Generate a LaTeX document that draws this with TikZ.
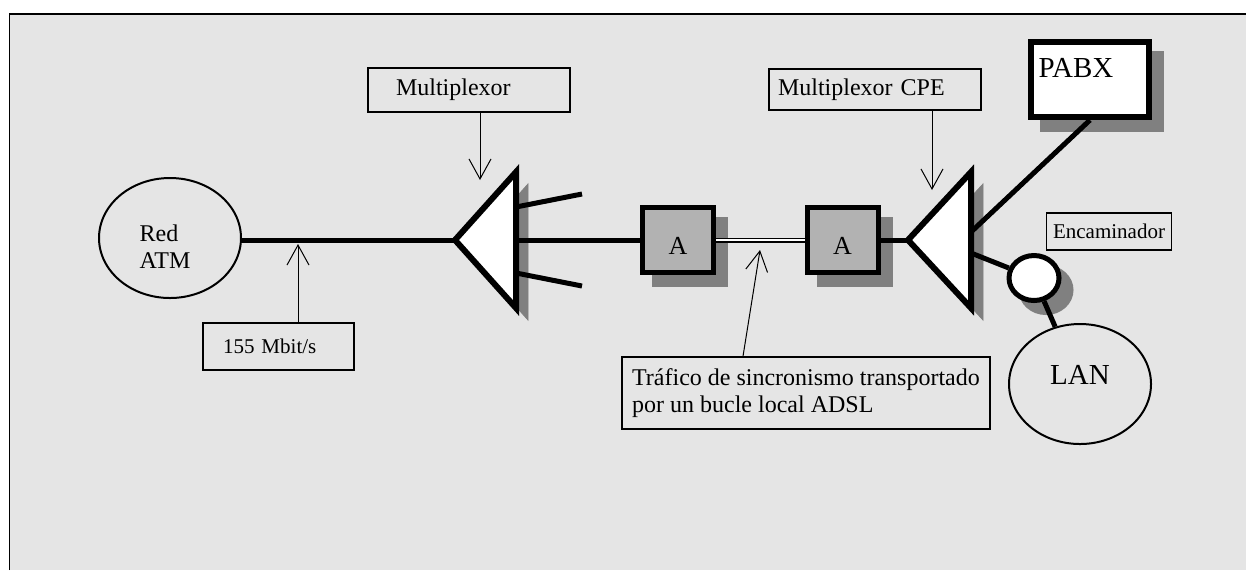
\documentclass[tikz,border=0pt]{standalone}
\usepackage{fontspec}
\setmainfont{Liberation Serif}
\usetikzlibrary{arrows.meta,positioning,shapes.geometric,shadows}

\definecolor{panel}{gray}{0.9}
\definecolor{modem}{gray}{0.7}
\definecolor{shade}{gray}{0.5}

\begin{document}
\begin{tikzpicture}[x=0.5pt,y=-0.5pt,
    font=\fontsize{12}{13.5}\selectfont,
    shadowed/.style={drop shadow={shadow xshift=6pt,shadow yshift=-6pt,opacity=1,fill=shade,draw=shade}},
    link/.style={line width=2.5pt},
    pointer/.style={line width=.5pt,-{Straight Barb[length=10pt,width=11pt]}},
    mux/.style={draw,line width=3pt,fill=white,shadowed},
    net/.style={draw,ellipse,line width=1pt,minimum width=71pt,minimum height=60pt},
    modembox/.style={draw,line width=2.5pt,fill=modem,minimum width=35.5pt,minimum height=32.5pt,
        shadowed,font=\fontsize{13}{15}\selectfont,text height=14pt},
    router/.style={draw,ellipse,line width=2.5pt,fill=white,minimum width=25pt,minimum height=22.5pt,
        inner sep=0pt,shadowed},
    tag/.style={draw,line width=.75pt,align=left,inner ysep=0pt},
    small/.style={font=\fontsize{10.5}{12}\selectfont},
    big/.style={font=\fontsize{14.5}{16}\selectfont}]

\useasboundingbox (0,0) rectangle (1246,570);
\fill[white] (0,0) rectangle (1246,570);
\fill[panel] (9.6,14) rectangle (1246,570);
\draw[line width=.75pt] (9.6,570) -- (9.6,14) -- (1246,14);

% multiplexers
\draw[mux] (455,240) -- (516,172) -- (516,308) -- cycle;
\draw[mux] (908,240) -- (971,172) -- (971,308) -- cycle;
\coordinate (mux1) at (455,240);
\coordinate (mux1up) at (516,207);
\coordinate (mux1mid) at (516,240);
\coordinate (mux1dn) at (516,273);
\coordinate (fanup) at (582,194);
\coordinate (fandn) at (582,286);
\coordinate (mux2) at (908,240);
\coordinate (mux2up) at (971,232);
\coordinate (mux2dn) at (971,253);

% equipment
\node[net,label={[xshift=-2.5pt,yshift=-4.5pt,align=left]center:Red\\ATM}] (atm) at (170,238) {};
\node[modembox] (modemA) at (678,240) {A};
\node[modembox] (modemB) at (842.5,240) {A};
\node[draw,line width=3pt,fill=white,minimum width=59pt,minimum height=37.5pt,shadowed,
    label={[xshift=-7pt,yshift=5.8pt,big]center:PABX}] (pabx) at (1090,79.5) {};
\node[router] (router) at (1034,278) {};
\node[net,label={[yshift=4.5pt,big]center:LAN}] (lan) at (1080,384) {};

% labels
\node[tag,text width=73pt,inner xsep=14pt,minimum height=22pt] (mplx) at (469,90) {Multiplexor};
\node[tag,text width=97pt,inner xsep=4.5pt,minimum height=20.5pt] (cpe) at (875,89.5) {Multiplexor CPE};
\node[tag,small,text width=55.5pt,inner xsep=10pt,minimum height=23.5pt] (rate) at (278.5,346.5) {155 Mbit/s};
\node[tag,small,align=center,minimum width=61pt,minimum height=18.5pt] (routerlbl) at (1109,231.5) {Encaminador};
\node[tag,minimum width=184pt,minimum height=36pt] (loop) at (806,393)
    {Tráfico de sincronismo transportado\\por un bucle local ADSL};

% links
\draw[link] (atm.east |- mux1) -- (mux1);
\draw[link] (mux1up) -- (fanup);
\draw[link] (mux1dn) -- (fandn);
\draw[link] (mux1mid) -- (modemA.west);
\draw[line width=.6pt,double=white,double distance=1.3pt] (modemA.east) -- (modemB.west);
\draw[link] (modemB.east) -- (mux2);
\draw[link] (mux2up) -- (pabx.south);
\draw[link] (mux2dn) -- (router);
\draw[link] (router) -- (lan);

% pointers
\coordinate (m1in) at (480,180);
\coordinate (m2in) at (932,190);
\coordinate (atmline) at (298,244);
\coordinate (adslline) at (760,250);
\draw[pointer] (mplx.south -| m1in) -- (m1in);
\draw[pointer] (cpe.south -| m2in) -- (m2in);
\draw[pointer] (rate.north -| atmline) -- (atmline);
\draw[pointer] ([xshift=-31.5pt]loop.north) -- (adslline);
\end{tikzpicture}
\end{document}
